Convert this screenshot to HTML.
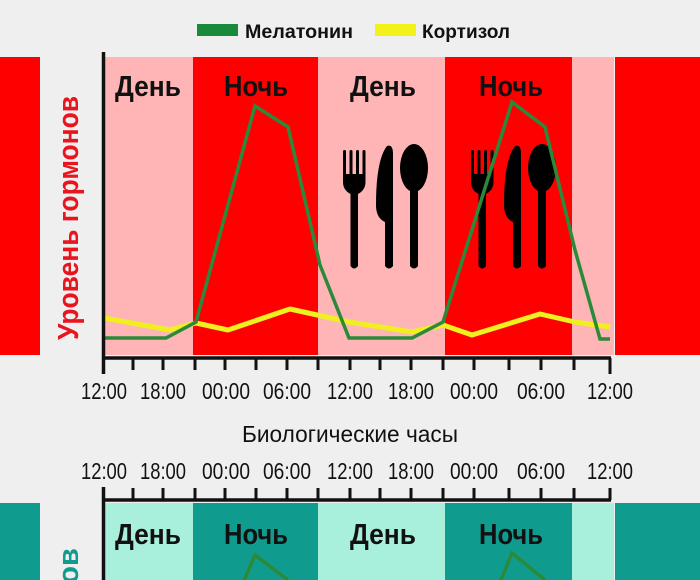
<!DOCTYPE html>
<html><head><meta charset="utf-8"><style>
html,body{margin:0;padding:0;background:#efefef;}
svg{display:block;font-family:"Liberation Sans",sans-serif;}
</style></head><body>
<svg width="700" height="580" viewBox="0 0 700 580" xmlns="http://www.w3.org/2000/svg">
<defs>
<g id="cut">
  <rect x="0" y="0" width="3" height="28" rx="1.5"/>
  <rect x="6.5" y="0" width="3" height="28" rx="1.5"/>
  <rect x="13" y="0" width="3" height="28" rx="1.5"/>
  <rect x="19.5" y="0" width="3" height="28" rx="1.5"/>
  <path d="M0 24 H22.5 V32 Q22.5 40 15 44 L15 116 Q11 121 7.5 116 L7.5 44 Q0 40 0 32 Z"/>
  <path d="M44 -4 Q50 -6 50 4 L50 116 Q46 121 42 116 L42 72 Q33 68 33 55 Q33 10 44 -4 Z"/>
  <ellipse cx="71" cy="18" rx="14" ry="24"/>
  <path d="M67 36 H75 V116 Q71 121 67 116 Z"/>
</g>
</defs>
<rect x="197" y="24" width="41" height="12" fill="#1a8a3a"/>
<text x="245" y="38" font-size="19" font-weight="bold" fill="#111" textLength="108" lengthAdjust="spacingAndGlyphs">Мелатонин</text>
<rect x="375" y="24" width="41" height="12" fill="#f2f21a"/>
<text x="422" y="38" font-size="19" font-weight="bold" fill="#111" textLength="88" lengthAdjust="spacingAndGlyphs">Кортизол</text>

<rect x="0" y="57" width="40" height="298" fill="#ff0000"/>
<rect x="615" y="57" width="85" height="298" fill="#ff0000"/>
<rect x="105" y="57" width="88" height="298" fill="#ffb5b5"/>
<rect x="193" y="57" width="125" height="298" fill="#ff0000"/>
<rect x="318" y="57" width="127" height="298" fill="#ffb5b5"/>
<rect x="445" y="57" width="127" height="298" fill="#ff0000"/>
<rect x="572" y="57" width="42" height="298" fill="#ffb5b5"/>

<text transform="translate(78,218) rotate(-90)" text-anchor="middle" font-size="29" font-weight="bold" fill="#e8141e" textLength="244" lengthAdjust="spacingAndGlyphs">Уровень гормонов</text>

<g font-size="29" font-weight="bold" fill="#111" text-anchor="middle">
<text x="148" y="96" textLength="66" lengthAdjust="spacingAndGlyphs">День</text>
<text x="256" y="96" textLength="64" lengthAdjust="spacingAndGlyphs">Ночь</text>
<text x="383" y="96" textLength="66" lengthAdjust="spacingAndGlyphs">День</text>
<text x="511" y="96" textLength="64" lengthAdjust="spacingAndGlyphs">Ночь</text>
</g>

<use href="#cut" x="343" y="150" fill="#000"/>
<use href="#cut" x="471" y="150" fill="#000"/>

<polyline fill="none" stroke="#f0f020" stroke-width="5" stroke-linejoin="round" points="104,318 170,330 196,323 228,330 290,309 349,322 412,332 443,325 472,335 540,314 575,322 610,327"/>
<polyline fill="none" stroke="#2a8a3a" stroke-width="3.5" stroke-linejoin="miter" points="104,338 166,338 196,322 255,106 288,127 320,265 349,338 412,338 443,322 512,102 545,127 575,250 600,339 610,339"/>

<g stroke="#111" stroke-width="3.5">
<line x1="103.5" y1="52" x2="103.5" y2="374"/>
<line x1="102" y1="358" x2="611" y2="358"/>
</g>
<g stroke="#111" stroke-width="3">
<line x1="133" y1="358" x2="133" y2="370"/><line x1="163" y1="358" x2="163" y2="370"/>
<line x1="195" y1="358" x2="195" y2="370"/><line x1="225" y1="358" x2="225" y2="370"/>
<line x1="256" y1="358" x2="256" y2="370"/><line x1="287" y1="358" x2="287" y2="370"/>
<line x1="318" y1="358" x2="318" y2="370"/><line x1="350" y1="358" x2="350" y2="370"/>
<line x1="380" y1="358" x2="380" y2="370"/><line x1="411" y1="358" x2="411" y2="370"/>
<line x1="443" y1="358" x2="443" y2="370"/><line x1="474" y1="358" x2="474" y2="370"/>
<line x1="509" y1="358" x2="509" y2="370"/><line x1="541" y1="358" x2="541" y2="370"/>
<line x1="574" y1="358" x2="574" y2="370"/><line x1="610" y1="358" x2="610" y2="374"/>
</g>
<g font-size="23" fill="#111" text-anchor="middle">
<text x="104" y="399" textLength="46" lengthAdjust="spacingAndGlyphs">12:00</text>
<text x="163" y="399" textLength="46" lengthAdjust="spacingAndGlyphs">18:00</text>
<text x="226" y="399" textLength="48" lengthAdjust="spacingAndGlyphs">00:00</text>
<text x="287" y="399" textLength="48" lengthAdjust="spacingAndGlyphs">06:00</text>
<text x="350" y="399" textLength="46" lengthAdjust="spacingAndGlyphs">12:00</text>
<text x="411" y="399" textLength="46" lengthAdjust="spacingAndGlyphs">18:00</text>
<text x="474" y="399" textLength="48" lengthAdjust="spacingAndGlyphs">00:00</text>
<text x="541" y="399" textLength="48" lengthAdjust="spacingAndGlyphs">06:00</text>
<text x="610" y="399" textLength="46" lengthAdjust="spacingAndGlyphs">12:00</text>
</g>
<text x="350" y="442" text-anchor="middle" font-size="23" fill="#111" textLength="216" lengthAdjust="spacingAndGlyphs">Биологические часы</text>

<g font-size="23" fill="#111" text-anchor="middle">
<text x="104" y="479" textLength="46" lengthAdjust="spacingAndGlyphs">12:00</text>
<text x="163" y="479" textLength="46" lengthAdjust="spacingAndGlyphs">18:00</text>
<text x="226" y="479" textLength="48" lengthAdjust="spacingAndGlyphs">00:00</text>
<text x="287" y="479" textLength="48" lengthAdjust="spacingAndGlyphs">06:00</text>
<text x="350" y="479" textLength="46" lengthAdjust="spacingAndGlyphs">12:00</text>
<text x="411" y="479" textLength="46" lengthAdjust="spacingAndGlyphs">18:00</text>
<text x="474" y="479" textLength="48" lengthAdjust="spacingAndGlyphs">00:00</text>
<text x="541" y="479" textLength="48" lengthAdjust="spacingAndGlyphs">06:00</text>
<text x="610" y="479" textLength="46" lengthAdjust="spacingAndGlyphs">12:00</text>
</g>

<rect x="0" y="503" width="40" height="77" fill="#0f9c8e"/>
<rect x="615" y="503" width="85" height="77" fill="#0f9c8e"/>
<rect x="105" y="503" width="88" height="77" fill="#a8f0dc"/>
<rect x="193" y="503" width="125" height="77" fill="#0f9c8e"/>
<rect x="318" y="503" width="127" height="77" fill="#a8f0dc"/>
<rect x="445" y="503" width="127" height="77" fill="#0f9c8e"/>
<rect x="572" y="503" width="42" height="77" fill="#a8f0dc"/>
<text transform="translate(78,566) rotate(-90)" text-anchor="middle" font-size="29" font-weight="bold" fill="#0f9c8e">ов</text>
<g font-size="29" font-weight="bold" fill="#111" text-anchor="middle">
<text x="148" y="544" textLength="66" lengthAdjust="spacingAndGlyphs">День</text>
<text x="256" y="544" textLength="64" lengthAdjust="spacingAndGlyphs">Ночь</text>
<text x="383" y="544" textLength="66" lengthAdjust="spacingAndGlyphs">День</text>
<text x="511" y="544" textLength="64" lengthAdjust="spacingAndGlyphs">Ночь</text>
</g>
<polyline fill="none" stroke="#2a8a3a" stroke-width="3.5" points="240,590 255,555 288,580"/>
<polyline fill="none" stroke="#2a8a3a" stroke-width="3.5" points="497,590 512,553 545,580"/>
<g stroke="#111" stroke-width="3.5">
<line x1="103.5" y1="487" x2="103.5" y2="580"/>
<line x1="102" y1="500" x2="611" y2="500"/>
</g>
<g stroke="#111" stroke-width="3">
<line x1="133" y1="488" x2="133" y2="500"/><line x1="163" y1="488" x2="163" y2="500"/>
<line x1="195" y1="488" x2="195" y2="500"/><line x1="225" y1="488" x2="225" y2="500"/>
<line x1="256" y1="488" x2="256" y2="500"/><line x1="287" y1="488" x2="287" y2="500"/>
<line x1="318" y1="488" x2="318" y2="500"/><line x1="350" y1="488" x2="350" y2="500"/>
<line x1="380" y1="488" x2="380" y2="500"/><line x1="411" y1="488" x2="411" y2="500"/>
<line x1="443" y1="488" x2="443" y2="500"/><line x1="474" y1="488" x2="474" y2="500"/>
<line x1="509" y1="488" x2="509" y2="500"/><line x1="541" y1="488" x2="541" y2="500"/>
<line x1="574" y1="488" x2="574" y2="500"/><line x1="610" y1="488" x2="610" y2="500"/>
</g>
</svg>
</body></html>
